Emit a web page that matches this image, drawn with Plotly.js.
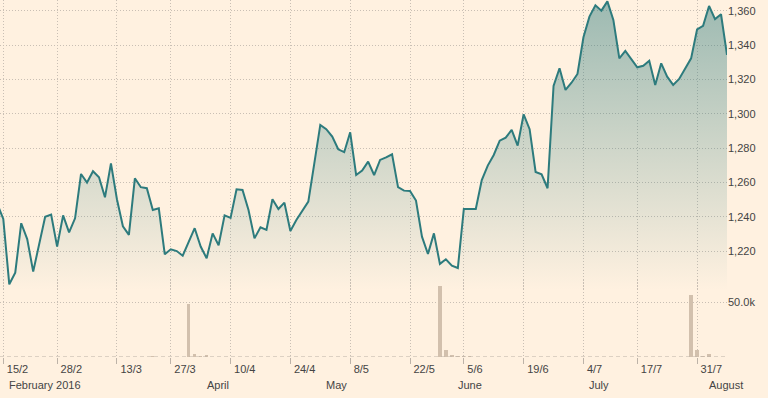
<!DOCTYPE html>
<html><head><meta charset="utf-8">
<script src="https://cdn.plot.ly/plotly-3.0.1.min.js"></script>
<style>html,body{margin:0;padding:0;background:#fff1e0;}#chart{width:768px;height:398px;}</style>
</head><body><div id="chart"></div>
<script>
const dates = [
"2016-02-11","2016-02-12","2016-02-16","2016-02-17","2016-02-18","2016-02-19","2016-02-22","2016-02-23","2016-02-24","2016-02-25",
"2016-02-26","2016-02-29","2016-03-01","2016-03-02","2016-03-03","2016-03-04","2016-03-07","2016-03-08","2016-03-09","2016-03-10",
"2016-03-11","2016-03-14","2016-03-15","2016-03-16","2016-03-17","2016-03-18","2016-03-21","2016-03-22","2016-03-23","2016-03-24",
"2016-03-28","2016-03-29","2016-03-30","2016-03-31","2016-04-01","2016-04-04","2016-04-05","2016-04-06","2016-04-07","2016-04-08",
"2016-04-11","2016-04-12","2016-04-13","2016-04-14","2016-04-15","2016-04-18","2016-04-19","2016-04-20","2016-04-21","2016-04-22",
"2016-04-25","2016-04-26","2016-04-27","2016-04-28","2016-04-29","2016-05-02","2016-05-03","2016-05-04","2016-05-05","2016-05-06",
"2016-05-09","2016-05-10","2016-05-11","2016-05-12","2016-05-13","2016-05-16","2016-05-17","2016-05-18","2016-05-19","2016-05-20",
"2016-05-23","2016-05-24","2016-05-25","2016-05-26","2016-05-27","2016-05-31","2016-06-01","2016-06-02","2016-06-03","2016-06-06",
"2016-06-07","2016-06-08","2016-06-09","2016-06-10","2016-06-13","2016-06-14","2016-06-15","2016-06-16","2016-06-17","2016-06-20",
"2016-06-21","2016-06-22","2016-06-23","2016-06-24","2016-06-27","2016-06-28","2016-06-29","2016-06-30","2016-07-01","2016-07-05",
"2016-07-06","2016-07-07","2016-07-08","2016-07-11","2016-07-12","2016-07-13","2016-07-14","2016-07-15","2016-07-18","2016-07-19",
"2016-07-20","2016-07-21","2016-07-22","2016-07-25","2016-07-26","2016-07-27","2016-07-28","2016-07-29","2016-08-01","2016-08-02",
"2016-08-03","2016-08-04","2016-08-05"];

const prices = [
1247.5,1238.8,1200.7,1207.5,1236.3,1227.1,1208.1,1224.0,1240.1,1241.3,
1222.7,1240.9,1231.0,1239.2,1265.0,1260.0,1266.6,1263.1,1251.4,1271.2,
1250.3,1234.5,1229.5,1262.5,1257.3,1256.7,1244.0,1245.0,1218.2,1221.1,
1220.1,1217.4,1225.4,1233.4,1222.7,1215.9,1230.4,1223.5,1240.9,1239.4,
1256.1,1255.7,1244.0,1227.5,1233.9,1232.4,1250.3,1244.6,1248.3,1231.8,
1238.2,1243.6,1248.9,1271.2,1293.6,1291.1,1286.8,1279.4,1277.7,1289.3,
1264.4,1267.0,1272.2,1264.4,1273.2,1274.7,1276.5,1257.3,1255.3,1255.1,
1249.5,1228.5,1218.4,1230.4,1212.6,1215.3,1211.6,1210.2,1244.6,1244.6,
1244.6,1261.5,1269.9,1276.1,1284.4,1286.2,1290.7,1281.5,1299.8,1291.1,
1266.2,1264.8,1256.7,1316.3,1326.6,1314.0,1318.2,1323.3,1344.7,1356.7,
1363.3,1360.2,1365.6,1354.8,1332.4,1336.7,1331.9,1327.2,1328.1,1331.0,
1316.9,1329.5,1321.7,1316.9,1320.4,1326.6,1332.4,1349.3,1351.4,1362.9,
1355.3,1358.1,1334.4];

const volDates = ["2016-03-21","2016-03-30","2016-03-31","2016-04-01","2016-04-04",
"2016-05-27","2016-05-31","2016-06-01","2016-06-02","2016-06-03","2016-06-06",
"2016-07-28","2016-07-29","2016-08-01","2016-08-02"];
const volumes = [1200,48500,3000,1200,2000, 64700,6700,1800,1200,900,600, 57100,6100,900,3000];

const tickDates = ["2016-02-12","2016-02-26","2016-03-11","2016-03-24","2016-04-08","2016-04-22","2016-05-06",
"2016-05-20","2016-06-03","2016-06-17","2016-07-01","2016-07-15","2016-07-29"];
const tickLabels = ["15/2","28/2","13/3","27/3","10/4","24/4","8/5","22/5","5/6","19/6","4/7","17/7","31/7"];

const monthDates = ["2016-02-12","2016-04-01","2016-04-29","2016-06-01","2016-07-01","2016-08-01"];
const monthLabels = ["February 2016","April","May","June","July","August"];

const priceTicks = [1220,1240,1260,1280,1300,1320,1340,1360];
const volTicks = [50000];

const gridCol = '#c9bfb4';
const dotDash = '1px,2px';
const teal = '45,123,125';
const fontFam = '"Liberation Sans", Arial, sans-serif';

const traces = [
  {
    type:'scatter', mode:'lines', x:dates, y:prices, xaxis:'x', yaxis:'y',
    line:{color:'rgb('+teal+')', width:2},
    fill:'tozeroy',
    fillgradient:{type:'vertical', start:1197.4, stop:1366.4,
      colorscale:[[0,'rgba('+teal+',0)'],[1,'rgba('+teal+',0.47)']]},
    hoverinfo:'skip'
  },
  {
    type:'bar', x:volDates, y:volumes, xaxis:'x', yaxis:'y2',
    marker:{color:'#d2c0ad', line:{width:0}}, width:0.55, hoverinfo:'skip'
  }
];

const annotations = monthDates.map((d,i)=>({
  xref:'x', yref:'paper', x:d, y:-0.0784, text:monthLabels[i],
  showarrow:false, xanchor:'left', yanchor:'middle', xshift:4,
  font:{family:fontFam, size:11, color:'#444'}
}));

const layout = {
  width:768, height:398,
  paper_bgcolor:'#fff1e0', plot_bgcolor:'rgba(0,0,0,0)',
  margin:{l:0,r:41,t:0,b:41},
  showlegend:false,
  bargap:0,
  font:{family:fontFam, size:11, color:'#444'},
  xaxis:{
    type:'category', categoryorder:'array', categoryarray:dates,
    range:[0.45,122], anchor:'y2',
    tickmode:'array', tickvals:tickDates, ticktext:tickLabels,
    ticklabelposition:'outside right', tickangle:0,
    ticklabelshift:3, ticklabelstandoff:2,
    ticks:'outside', ticklen:6, tickcolor:'#bdb3a8', tickwidth:1,
    showgrid:true, gridcolor:gridCol, griddash:dotDash, gridwidth:1,
    showline:false, zeroline:false, fixedrange:true
  },
  yaxis:{
    domain:[0.1877,1], range:[1197.4,1366.4], side:'right', anchor:'x',
    tickmode:'array', tickvals:priceTicks, separatethousands:true,
    showgrid:true, gridcolor:gridCol, griddash:dotDash, gridwidth:1,
    zeroline:false, showline:false, ticks:'', fixedrange:true
  },
  yaxis2:{
    domain:[0,0.2157], range:[0,70500], side:'right', anchor:'x',
    tickmode:'array', tickvals:volTicks, tickformat:'.3s',
    showgrid:true, gridcolor:gridCol, griddash:dotDash, gridwidth:1,
    zeroline:false, showline:false, ticks:'', fixedrange:true
  },
  shapes:[{type:'line', xref:'paper', x0:0, x1:1, yref:'y2', y0:0, y1:0,
    line:{color:'#bdb3a8', width:1, dash:'4px,3px'}}],
  annotations:annotations
};

Plotly.newPlot('chart', traces, layout, {staticPlot:true, displayModeBar:false});
</script>
</body></html>
